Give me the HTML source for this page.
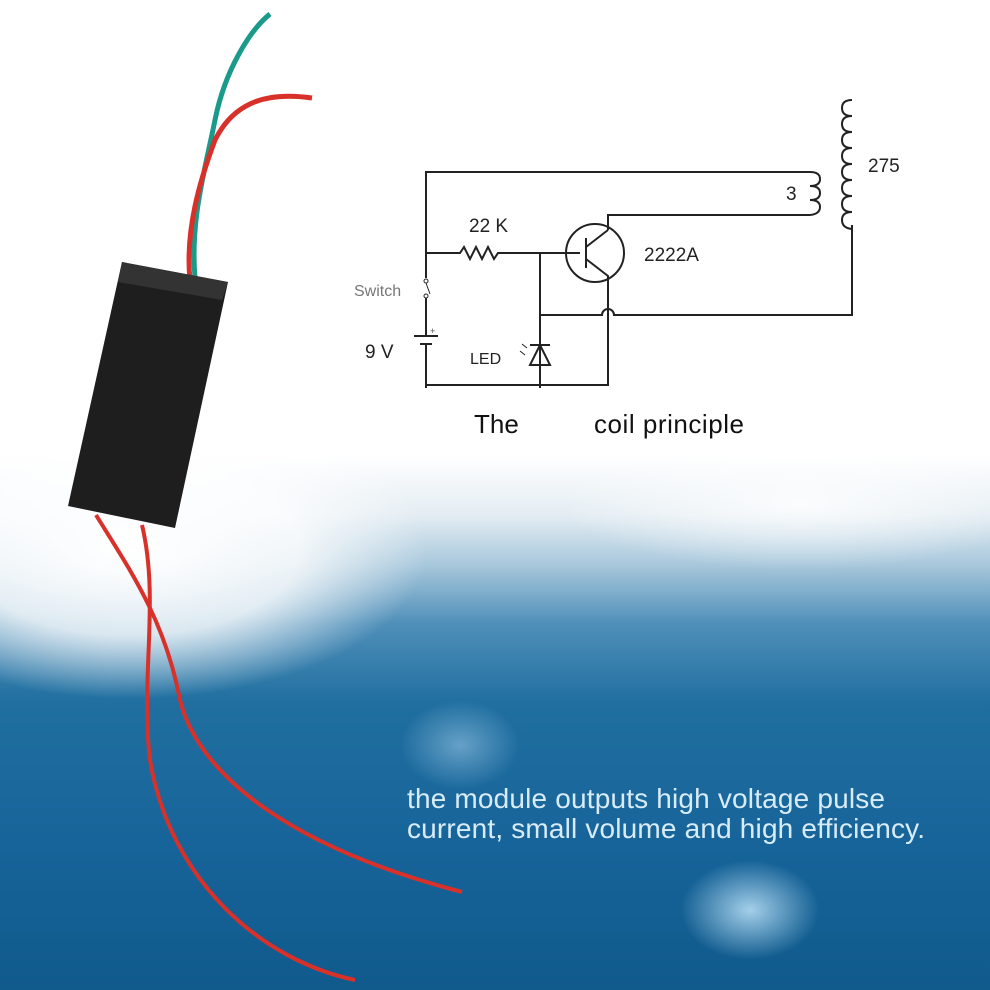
<!DOCTYPE html>
<html><head><style>
html,body{margin:0;padding:0;width:990px;height:990px;overflow:hidden}
body{position:relative;background:linear-gradient(180deg,#ffffff 0%,#ffffff 46%,#e4edf3 52%,#a9c8dc 57%,#4f8fb9 63%,#206fa0 71%,#17649a 85%,#105a8c 100%)}
.glow{position:absolute;border-radius:50%}
</style></head><body>
<div class="glow" style="left:-170px;top:400px;width:600px;height:300px;background:radial-gradient(ellipse at center,rgba(255,255,255,1) 0%,rgba(255,255,255,.8) 40%,rgba(255,255,255,0) 70%)"></div>
<div class="glow" style="left:560px;top:440px;width:480px;height:130px;background:radial-gradient(ellipse at center,rgba(255,255,255,.8) 0%,rgba(255,255,255,0) 70%)"></div>
<div class="glow" style="left:680px;top:860px;width:140px;height:100px;background:radial-gradient(ellipse at center,rgba(200,235,255,.8) 0%,rgba(200,235,255,0) 70%)"></div>
<div class="glow" style="left:400px;top:700px;width:120px;height:90px;background:radial-gradient(ellipse at center,rgba(190,225,250,.45) 0%,rgba(190,225,250,0) 70%)"></div>
<svg width="990" height="990" style="position:absolute;left:0;top:0" font-family="Liberation Sans, sans-serif">
<path d="M195,278 C190,220 205,170 215,120 C225,70 250,30 270,14" stroke="#1a9a8a" stroke-width="5" fill="none"/>
<path d="M190,280 C185,230 200,180 215,140 C235,100 270,92 312,98" stroke="#d8312a" stroke-width="5" fill="none"/>
<polygon points="122,262 228,282 175,528 68,506" fill="#1e1e1e"/>
<polygon points="122,262 228,282 222,300 118,282" fill="#333"/>
<path d="M96,515 C130,570 165,620 180,700 C200,780 300,850 462,892" stroke="#d8312a" stroke-width="4" fill="none"/>
<path d="M142,525 C160,600 140,680 150,760 C170,880 260,960 355,980" stroke="#d8312a" stroke-width="4" fill="none"/>
<g stroke="#222" stroke-width="2" fill="none">
<path d="M426,278 V172 H810"/>
<path d="M426,298 V388"/>
<circle cx="426" cy="281" r="2" stroke-width="1"/>
<circle cx="426" cy="296" r="2" stroke-width="1"/>
<path d="M426,283 L430,294" stroke-width="1"/>
<path d="M810,172 q10,0 10,7 q0,7 -10,7 q10,0 10,7 q0,7 -10,7 q10,0 10,7 q0,7 -10,8"/>
<path d="M608,230 V215 H810"/>
<path d="M426,253 H460 l4,-6 l6,12 l6,-12 l6,12 l6,-12 l6,12 l4,-6 H580"/>
<circle cx="595" cy="253" r="29"/>
<path d="M586,238 V268"/>
<path d="M586,247 L608,230 M586,259 L608,276 V385 H426"/>
<path d="M540,253 V388"/>
<path d="M540,315 H602 a6,6 0 0 1 12,0 H852 V225"/>
<path d="M852,100 q-10,0 -10,8 q0,8 10,8 q-10,0 -10,8 q0,8 10,8 q-10,0 -10,8 q0,8 10,8 q-10,0 -10,8 q0,8 10,8 q-10,0 -10,8 q0,8 10,8 q-10,0 -10,8 q0,8 10,8 q-10,0 -10,8 q0,8 10,8 q-10,0 -10,8 q0,8 10,9"/>
<path d="M530,365 H550 L540,345 Z M530,345 H550"/>
<path d="M527,348 l-5,-4 M525,355 l-5,-4" stroke-width="1"/>
</g>
<rect x="418" y="330" width="18" height="20" fill="#fff"/>
<path d="M414,336 H438 M420,344 H432" stroke="#222" stroke-width="2"/>
<path d="M426,328 V336 M426,344 V352" stroke="#222" stroke-width="2"/>
<text x="430" y="334" font-size="9" fill="#555">+</text>
<text x="469" y="232" font-size="19" fill="#222">22 K</text>
<text x="644" y="261" font-size="19" fill="#222">2222A</text>
<text x="786" y="200" font-size="19" fill="#222">3</text>
<text x="868" y="172" font-size="19" fill="#222">275</text>
<text x="354" y="296" font-size="16" fill="#777">Switch</text>
<text x="365" y="358" font-size="19" fill="#222">9 V</text>
<text x="470" y="364" font-size="16" fill="#222">LED</text>
<text x="474" y="433" font-size="26" fill="#111">The</text>
<text x="594" y="433" font-size="26" fill="#111" textLength="150">coil principle</text>
<text x="407" y="808" font-size="28" fill="#d8ecf8" textLength="478">the module outputs high voltage pulse</text>
<text x="407" y="838" font-size="28" fill="#d8ecf8" textLength="518">current, small volume and high efficiency.</text>
</svg>
</body></html>
